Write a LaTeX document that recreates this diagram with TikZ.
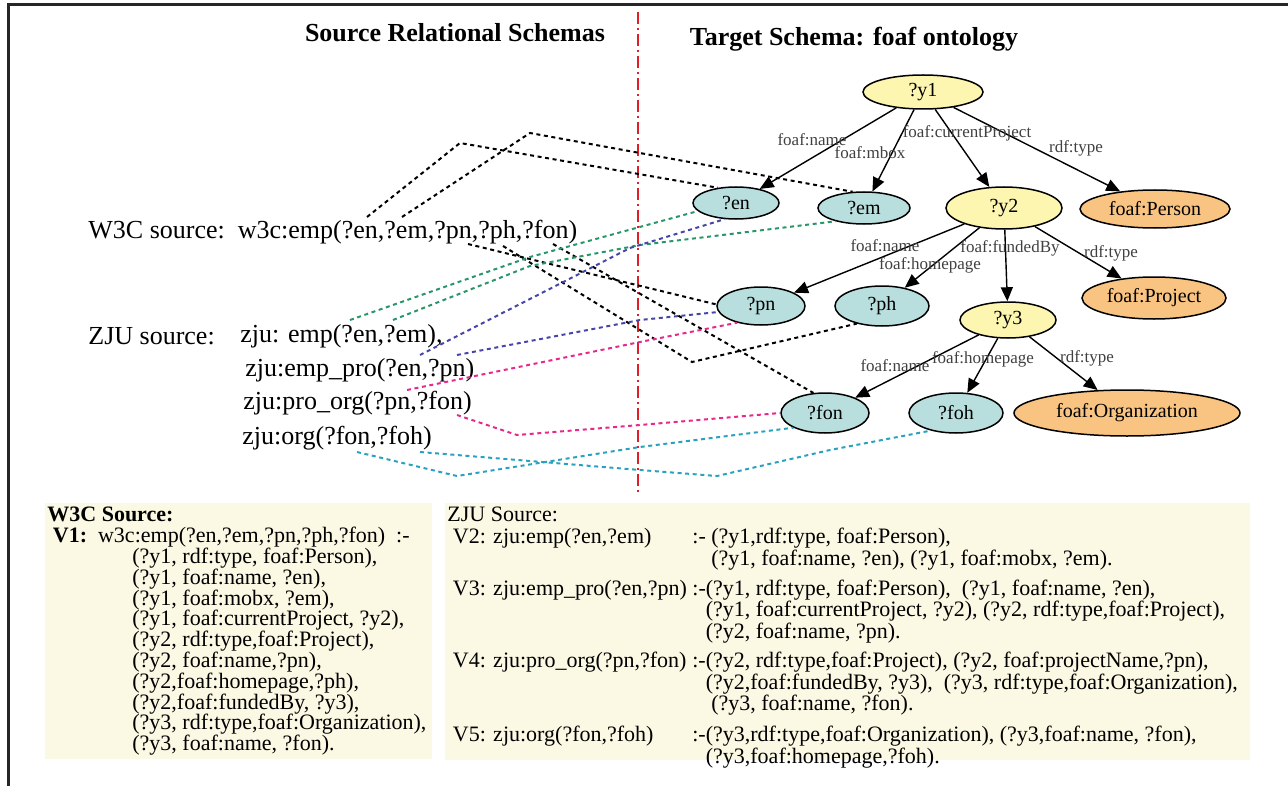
\documentclass[tikz,border=0pt]{standalone}
\usepackage{fontspec}
\setmainfont{Liberation Serif}
\usetikzlibrary{arrows.meta,shapes.geometric}
\newcommand{\lblsize}{\fontsize{8.5}{9}\selectfont}
\newcommand{\srcsize}{\fontsize{13}{15}\selectfont}
\newcommand{\nodesize}{\fontsize{10}{12}\selectfont}
\newcommand{\viewsize}{\fontsize{11}{10.4}\selectfont}
\definecolor{varfill}{RGB}{184,222,222}
\definecolor{bnodefill}{RGB}{253,246,176}
\definecolor{clsfill}{RGB}{249,196,130}
\definecolor{boxfill}{RGB}{251,248,228}
\definecolor{mapgreen}{RGB}{40,150,105}
\definecolor{mapblue}{RGB}{70,70,170}
\definecolor{mappink}{RGB}{232,40,140}
\definecolor{mapcyan}{RGB}{40,162,192}
\definecolor{sepred}{RGB}{225,30,40}

\begin{document}
\begin{tikzpicture}[x=0.5pt,y=-0.5pt,
   bnode/.style={ellipse,draw,line width=0.75pt,fill=bnodefill,inner sep=0pt,font=\nodesize},
   var/.style={bnode,fill=varfill},
   cls/.style={bnode,fill=clsfill},
   arr/.style={-{Triangle[length=7pt,width=6pt]},line width=0.7pt},
   lbl/.style={font=\lblsize,text=black!75,inner sep=0pt},
   src/.style={font=\srcsize,inner sep=0pt,anchor=west},
   title/.style={font=\srcsize\bfseries,inner sep=0pt},
   map/.style={line width=1pt,dash pattern=on 2pt off 1.8pt},
   viewtext/.style={font=\viewsize,inner sep=0pt,anchor=north west,align=left}]
   \useasboundingbox (0,0) rectangle (1288,786);
   \draw[line width=1.5pt,black!85] (8,786) -- (8,5) -- (1288,5);
   \draw[sepred,line width=0.6pt,dash pattern=on 6pt off 2pt on 1pt off 2pt] (638,12) -- (638,495);

   \node[title] (srctitle) at (455,33) {Source Relational Schemas};
   \node[title] (tgttitle) at (854,39) {Target Schema: foaf ontology};

   % ontology graph
   \node[bnode,minimum width=60pt,minimum height=17pt] (y1) at (923,92) {?y1};
   \node[var,minimum width=43pt,minimum height=16pt] (en) at (736,203) {?en};
   \node[var,minimum width=46pt,minimum height=16pt] (em) at (864,208) {?em};
   \node[bnode,minimum width=58pt,minimum height=21pt] (y2) at (1004,208) {?y2};
   \node[cls,minimum width=75pt,minimum height=19pt] (person) at (1155,209) {foaf:Person};
   \node[var,minimum width=44pt,minimum height=19pt] (pn) at (761,306) {?pn};
   \node[var,minimum width=47pt,minimum height=20pt] (ph) at (882,306) {?ph};
   \node[bnode,minimum width=48pt,minimum height=18pt] (y3) at (1008,320) {?y3};
   \node[cls,minimum width=72pt,minimum height=21pt] (project) at (1154,298) {foaf:Project};
   \node[var,minimum width=44pt,minimum height=20pt] (fon) at (825,413) {?fon};
   \node[var,minimum width=47pt,minimum height=20pt] (foh) at (956,413) {?foh};
   \node[cls,minimum width=113pt,minimum height=23pt] (org) at (1127,413) {foaf:Organization};

   \draw[arr] (y1) -- (en);
   \draw[arr] (y1) -- (em);
   \draw[arr] (y1) -- (y2);
   \draw[arr] (y1) -- (person);
   \draw[arr] (y2) -- (pn);
   \draw[arr] (y2) -- (ph);
   \draw[arr] (y2) -- (y3);
   \draw[arr] (y2) -- (project);
   \draw[arr] (y3) -- (fon);
   \draw[arr] (y3) -- (foh);
   \draw[arr] (y3) -- (org);

   \node[lbl] (l-name1) at (812,140) {foaf:name};
   \node[lbl] (l-mbox) at (870,153) {foaf:mbox};
   \node[lbl] (l-cur) at (967,133) {foaf:currentProject};
   \node[lbl] (l-type1) at (1076,148) {rdf:type};
   \node[lbl] (l-name2) at (885,246) {foaf:name};
   \node[lbl] (l-home2) at (930,265) {foaf:homepage};
   \node[lbl] (l-fund) at (1010,248) {foaf:fundedBy};
   \node[lbl] (l-type2) at (1111,253) {rdf:type};
   \node[lbl] (l-name3) at (895,366) {foaf:name};
   \node[lbl] (l-home3) at (983,359) {foaf:homepage};
   \node[lbl] (l-type3) at (1087,358) {rdf:type};

   % relational sources
   \node[src] (w3csrc) at (88,232) {W3C source:\ \ w3c:emp(?en,?em,?pn,?ph,?fon)};
   \node[src] (zjusrc) at (88,336) {ZJU source:};
   \node[src] (zjuemp) at (240,336) {zju: emp(?en,?em),};
   \node[src] (zjuemppro) at (245,370) {zju:emp\_pro(?en,?pn)};
   \node[src] (zjuproorg) at (243,403) {zju:pro\_org(?pn,?fon)};
   \node[src] (zjuorg) at (242,438) {zju:org(?fon,?foh)};

   \coordinate (w-en) at (367,217);
   \coordinate (w-em) at (402,217);
   \coordinate (w-pn) at (468,244);
   \coordinate (w-ph) at (503,246);
   \coordinate (w-fon) at (553,244);
   \coordinate (ze-en) at (350,320);
   \coordinate (ze-em) at (393,320);
   \coordinate (zp-en) at (420,355);
   \coordinate (zp-pn) at (457,355);
   \coordinate (zo-pn) at (407,390);
   \coordinate (zo-fon) at (457,415);
   \coordinate (zr-fon) at (357,452);
   \coordinate (zr-foh) at (420,452);

   \draw[map] (w-en) -- (460,143) -- (en.140);
   \draw[map] (w-em) -- (530,133) -- (em.125);
   \draw[map] (w-pn) -- (pn.178);
   \draw[map] (w-ph) -- (692,362) -- (ph.215);
   \draw[map] (w-fon) -- (fon.120);
   \draw[map,mapgreen] (ze-en) -- (530,257) -- (en.192);
   \draw[map,mapgreen] (ze-em) -- (530,266) -- (640,245) -- (em.205);
   \draw[map,mapblue] (zp-en) -- (630,248) -- (en.235);
   \draw[map,mapblue] (zp-pn) -- (640,320) -- (pn.188);
   \draw[map,mappink] (zo-pn) -- (640,342) -- (pn.215);
   \draw[map,mappink] (zo-fon) -- (517,435) -- (640,425) -- (fon.180);
   \draw[map,mapcyan] (zr-fon) -- (457,476) -- (640,447) -- (fon.205);
   \draw[map,mapcyan] (zr-foh) -- (640,470) -- (717,476) -- (830,450) -- (foh.215);

   % view definitions
   \fill[boxfill] (45,503) rectangle (432,759);
   \fill[boxfill] (445,503) rectangle (1250,760);
   \node[viewtext] (w3cview) at (47,507) {\textbf{W3C Source:}\\
      \ \textbf{V1:}\ \ w3c:emp(?en,?em,?pn,?ph,?fon)\ \ :-\\
      \hspace*{42.5pt}(?y1, rdf:type, foaf:Person),\\
      \hspace*{42.5pt}(?y1, foaf:name, ?en),\\
      \hspace*{42.5pt}(?y1, foaf:mobx, ?em),\\
      \hspace*{42.5pt}(?y1, foaf:currentProject, ?y2),\\
      \hspace*{42.5pt}(?y2, rdf:type,foaf:Project),\\
      \hspace*{42.5pt}(?y2, foaf:name,?pn),\\
      \hspace*{42.5pt}(?y2,foaf:homepage,?ph),\\
      \hspace*{42.5pt}(?y2,foaf:fundedBy, ?y3),\\
      \hspace*{42.5pt}(?y3, rdf:type,foaf:Organization),\\
      \hspace*{42.5pt}(?y3, foaf:name, ?fon).};
   \node[viewtext] (zjuview) at (447,507) {\begin{tabular}{@{}l@{}l@{}}
      ZJU Source: & \\
      \ V2: zju:emp(?en,?em) & :- (?y1,rdf:type, foaf:Person),\\
       & \hphantom{:-}\ (?y1, foaf:name, ?en), (?y1, foaf:mobx, ?em).\\[4pt]
      \ V3: zju:emp\_pro(?en,?pn)\ \null & :-(?y1, rdf:type, foaf:Person),\ \ (?y1, foaf:name, ?en),\\
       & \hphantom{:-}(?y1, foaf:currentProject, ?y2), (?y2, rdf:type,foaf:Project),\\
       & \hphantom{:-}(?y2, foaf:name, ?pn).\\[3.5pt]
      \ V4: zju:pro\_org(?pn,?fon)\ \null & :-(?y2, rdf:type,foaf:Project), (?y2, foaf:projectName,?pn),\\
       & \hphantom{:-}(?y2,foaf:fundedBy, ?y3),\ \ (?y3, rdf:type,foaf:Organization),\\
       & \hphantom{:-}\ (?y3, foaf:name, ?fon).\\[4.5pt]
      \ V5: zju:org(?fon,?foh) & :-(?y3,rdf:type,foaf:Organization), (?y3,foaf:name, ?fon),\\
       & \hphantom{:-}(?y3,foaf:homepage,?foh).
   \end{tabular}};
\end{tikzpicture}
\end{document}
